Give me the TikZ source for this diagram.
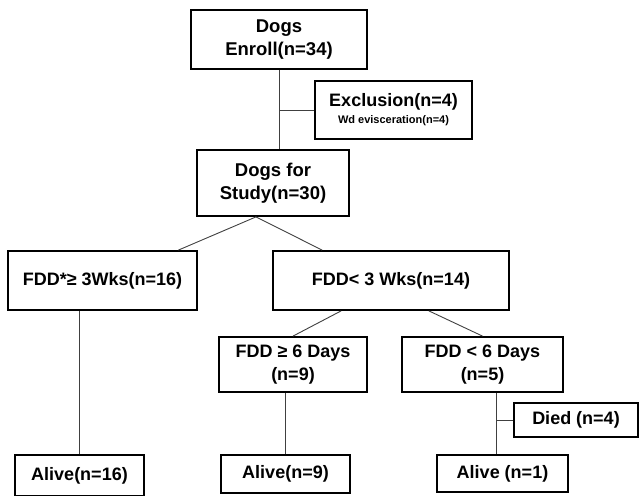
\documentclass[tikz,border=0pt]{standalone}
\usepackage{fontspec}
\setmainfont{Liberation Sans}
\begin{document}
\begin{tikzpicture}[x=1bp,y=-1bp,
  box/.style={draw=black,line width=1.8bp,rectangle,inner sep=0pt,align=center,
    font=\bfseries\fontsize{18bp}{23bp}\selectfont},
  conn/.style={draw=black!75,line width=0.9bp}]
\useasboundingbox (0,0) rectangle (639,496);
% nodes
\node[box,minimum width=176bp,minimum height=59bp] (enroll) at (279,39.5)
  {\fontsize{18.5bp}{24bp}\selectfont Dogs\\\fontsize{18.5bp}{24bp}\selectfont Enroll(n=34)};
\node[box,minimum width=157bp,minimum height=58bp] (excl) at (393.5,110)
  {Exclusion(n=4)\\[-6bp]{\fontsize{11bp}{12bp}\selectfont Wd evisceration(n=4)}};
\node[box,minimum width=152bp,minimum height=66bp] (study) at (273,183)
  {\fontsize{18.5bp}{24bp}\selectfont Dogs for\\\fontsize{18.5bp}{24bp}\selectfont Study(n=30)};
\node[box,minimum width=189bp,minimum height=59bp] (fddA) at (102.5,280.5) {FDD*≥ 3Wks(n=16)};
\node[box,minimum width=236bp,minimum height=59bp] (fddB) at (391,280.5) {FDD< 3 Wks(n=14)};
\node[box,minimum width=148bp,minimum height=55bp] (sixA) at (293,364.5) {FDD ≥ 6 Days\\(n=9)};
\node[box,minimum width=161bp,minimum height=55bp] (sixB) at (482.5,364.5) {FDD < 6 Days\\(n=5)};
\node[box,minimum width=124bp,minimum height=34bp] (died) at (576,420) {Died (n=4)};
\node[box,minimum width=129bp,minimum height=41bp] (aliveA) at (79.5,475.5) {Alive(n=16)};
\node[box,minimum width=129bp,minimum height=38bp] (aliveB) at (285.5,474) {Alive(n=9)};
\node[box,minimum width=131bp,minimum height=37bp] (aliveC) at (502.5,473.5) {Alive (n=1)};
% helper coordinates
\coordinate (apex) at ([xshift=-17bp]study.south);
\coordinate (fAl) at ([xshift=-19.5bp]fddA.north east);
\coordinate (fBl) at ([xshift=50bp]fddB.north west);
\coordinate (fBbl) at ([xshift=69bp]fddB.south west);
\coordinate (fBbr) at ([xshift=-81bp]fddB.south east);
\coordinate (sBb) at ([xshift=14bp]sixB.south);
% connectors
\draw[conn] (enroll.south) -- (enroll.south |- study.north);
\draw[conn] (excl.west) -- (excl.west -| enroll.south);
\draw[conn] (apex) -- (fAl);
\draw[conn] (apex) -- (fBl);
\draw[conn] (fBbl) -- (sixA.north);
\draw[conn] (fBbr) -- (sixB.north);
\draw[conn] (aliveA.north) -- (aliveA.north |- fddA.south);
\draw[conn] (aliveB.north) -- (aliveB.north |- sixA.south);
\draw[conn] (sBb) -- (sBb |- aliveC.north);
\draw[conn] (died.west) -- (died.west -| sBb);
\end{tikzpicture}
\end{document}
